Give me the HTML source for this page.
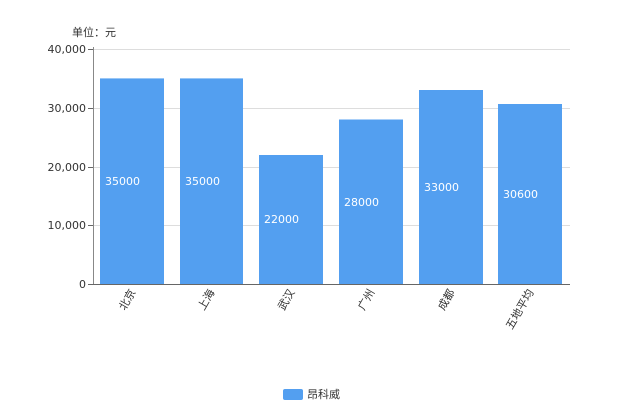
<!DOCTYPE html><html><head><meta charset="utf-8"><style>body{margin:0;background:#fff}svg{display:block;font-family:"DejaVu Sans","Noto Sans CJK SC",sans-serif}</style></head><body>
<svg width="620" height="413" xmlns="http://www.w3.org/2000/svg">
<text x="72" y="36" font-size="11" fill="#333">单位：元</text>
<g stroke="#ddd" stroke-width="1">
<line x1="93" x2="570" y1="49.5" y2="49.5"/><line x1="93" x2="570" y1="108.5" y2="108.5"/><line x1="93" x2="570" y1="167.5" y2="167.5"/><line x1="93" x2="570" y1="225.5" y2="225.5"/></g>
<g font-size="11" fill="#333" text-anchor="end">
<text x="86" y="53">40,000</text><text x="86" y="112">30,000</text><text x="86" y="171">20,000</text><text x="86" y="229">10,000</text><text x="86" y="288">0</text></g>
<g stroke="#666"><line x1="88" x2="93" y1="49.5" y2="49.5"/><line x1="88" x2="93" y1="108.5" y2="108.5"/><line x1="88" x2="93" y1="167.5" y2="167.5"/><line x1="88" x2="93" y1="225.5" y2="225.5"/><line x1="88" x2="93" y1="284.5" y2="284.5"/></g>
<g fill="#539ff0">
<rect x="100" y="78.4" width="64" height="205.6"/><rect x="180" y="78.4" width="63" height="205.6"/><rect x="259" y="155" width="64" height="129"/><rect x="339" y="119.5" width="64" height="164.5"/><rect x="419" y="90" width="64" height="194"/><rect x="498" y="104" width="64" height="180"/></g>
<g font-size="11" fill="#fff">
<text x="105" y="185">35000</text><text x="185" y="185">35000</text><text x="264" y="223">22000</text><text x="344" y="206">28000</text><text x="424" y="191">33000</text><text x="503" y="198">30600</text></g>
<line x1="93.5" x2="93.5" y1="47" y2="285" stroke="#888"/>
<line x1="93" x2="570" y1="284.5" y2="284.5" stroke="#666"/>
<g font-size="11" fill="#333" text-anchor="end">
<text transform="translate(136,292) rotate(-60)">北京</text>
<text transform="translate(215,292) rotate(-60)">上海</text>
<text transform="translate(295,292) rotate(-60)">武汉</text>
<text transform="translate(375,292) rotate(-60)">广州</text>
<text transform="translate(455,292) rotate(-60)">成都</text>
<text transform="translate(534,292) rotate(-60)">五地平均</text></g>
<rect x="283" y="389" width="20" height="11" rx="2" fill="#539ff0"/>
<text x="307" y="398" font-size="11" fill="#333">昂科威</text>
</svg></body></html>
